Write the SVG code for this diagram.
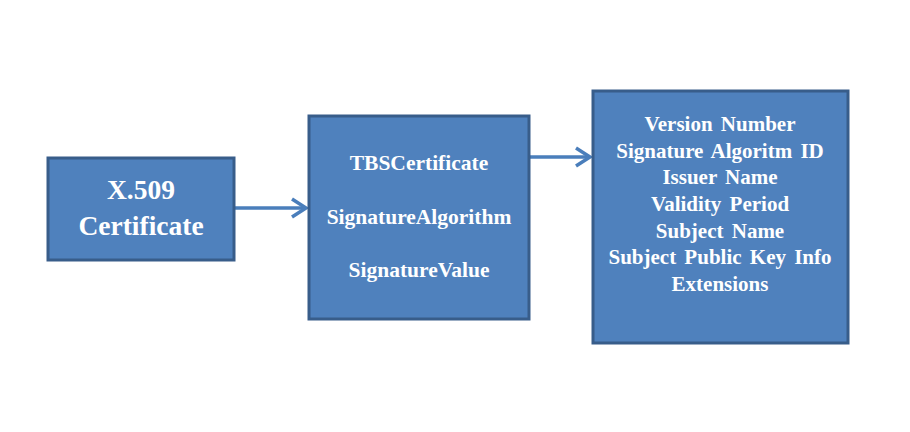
<svg xmlns="http://www.w3.org/2000/svg" width="910" height="432" viewBox="0 0 910 432">
<defs>
<style>
.box{fill:#4F81BD;stroke:#385D8A;stroke-width:3}
.t{font-family:"Liberation Serif","Times New Roman",serif;font-weight:bold;fill:#fff;text-anchor:middle}
.c{stroke:#4A7EBB;stroke-width:3.5;fill:none}
</style>
</defs>
<rect width="910" height="432" fill="#fff"/>
<g id="connectors">
<path class="c" d="M234,208 L306,208"/>
<path class="c" d="M292,199 L306,208 L292,217"/>
<path class="c" d="M529,157 L590,157"/>
<path class="c" d="M576,148 L590,157 L576,166"/>
</g>
<g id="x509">
<rect class="box" x="48" y="158" width="186" height="102"/>
<text class="t" x="141" y="199" font-size="27.5">X.509</text>
<text class="t" x="141" y="235" font-size="27.5">Certificate</text>
</g>
<g id="cert-fields">
<rect class="box" x="309" y="116" width="220" height="203"/>
<text class="t" x="419" y="170" font-size="21.5">TBSCertificate</text>
<text class="t" x="419" y="224" font-size="21.5">SignatureAlgorithm</text>
<text class="t" x="419" y="277" font-size="21.5">SignatureValue</text>
</g>
<g id="tbs-fields">
<rect class="box" x="593" y="91" width="255" height="252"/>
<g class="t" font-size="21" word-spacing="3">
<text x="720" y="131">Version Number</text>
<text x="720" y="158">Signature Algoritm ID</text>
<text x="720" y="184">Issuer Name</text>
<text x="720" y="211">Validity Period</text>
<text x="720" y="238">Subject Name</text>
<text x="720" y="264">Subject Public Key Info</text>
<text x="720" y="291">Extensions</text>
</g>
</g>
</svg>
